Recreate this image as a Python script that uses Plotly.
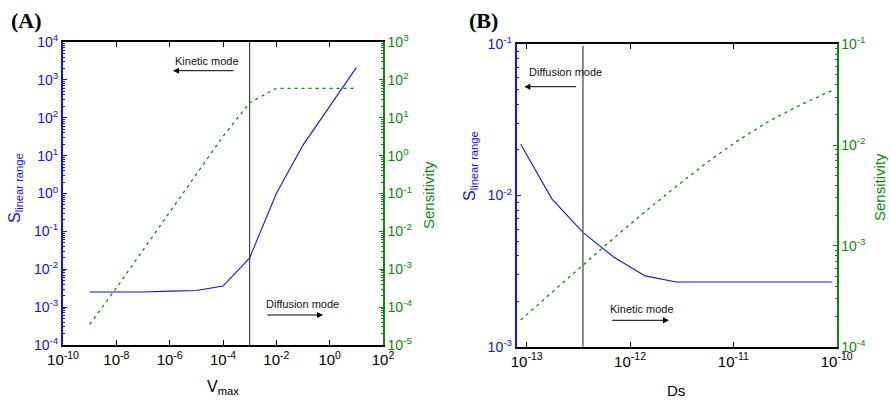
import math
import plotly.graph_objects as go

# ---------------- Data ----------------
# Panel A
vmax = [1e-9, 1e-8, 1e-7, 1e-6, 1e-5, 1e-4, 1e-3, 1e-2, 1e-1, 1e0, 1e1]
s_lin_A = [2.5e-3, 2.5e-3, 2.5e-3, 2.65e-3, 2.75e-3, 3.6e-3, 2.0e-2, 1.0, 19.0, 200.0, 2100.0]
sens_A = [3.5e-5, 3.2e-4, 3.2e-3, 3.2e-2, 0.32, 3.2, 25.0, 60.0, 60.0, 60.0, 60.0]
vline_A = 1e-3

# Panel B
ds = [8.75e-14, 1.75e-13, 3.5e-13, 7e-13, 1.4e-12, 2.8e-12, 5.6e-12,
      1.12e-11, 2.24e-11, 4.48e-11, 8.96e-11]
s_lin_B = [0.0218, 0.0095, 0.0057, 0.0039, 0.00294, 0.00268, 0.00268,
           0.00268, 0.00268, 0.00268, 0.00268]
sens_B = [1.84e-4, 3.47e-4, 6.46e-4, 1.2e-3, 2.19e-3, 3.89e-3, 6.76e-3,
          0.0112, 0.0174, 0.0251, 0.0347]
vline_B = 3.5e-13

# Tick definitions (exponents)
xA_exp = [-10, -8, -6, -4, -2, 0, 2]
yA_left_exp = [-4, -3, -2, -1, 0, 1, 2, 3, 4]
yA_right_exp = [-5, -4, -3, -2, -1, 0, 1, 2, 3]
xB_exp = [-13, -12, -11, -10]
yB_left_exp = [-3, -2, -1]
yB_right_exp = [-4, -3, -2, -1]

BLUE = "#1010ff"
GREEN = "#0a8a0a"
FONT = "Liberation Sans"
W, H = 890, 401


def tv(exps):
    return [10.0 ** e for e in exps]


def tt(exps):
    return ["10<sup>%d</sup>" % e for e in exps]


def minor_vals(exps):
    out = []
    for e in exps[:-1]:
        for m in range(2, 10):
            out.append(m * 10.0 ** e)
    return out


def px(x):
    return x / W


def py(y):
    return 1 - y / H


fig = go.Figure()

# Panel A traces
fig.add_trace(go.Scatter(x=vmax, y=s_lin_A, mode="lines", line=dict(color=BLUE, width=1.1),
                         xaxis="x", yaxis="y", showlegend=False))
fig.add_trace(go.Scatter(x=vmax, y=sens_A, mode="lines", line=dict(color=GREEN, width=1.3, dash="3px,4px"),
                         xaxis="x", yaxis="y2", showlegend=False))
fig.add_trace(go.Scatter(x=[vline_A, vline_A], y=[1e-4, 1e4], mode="lines",
                         line=dict(color="#222222", width=1), xaxis="x", yaxis="y", showlegend=False))

# Panel B traces
fig.add_trace(go.Scatter(x=ds, y=s_lin_B, mode="lines", line=dict(color=BLUE, width=1.1),
                         xaxis="x2", yaxis="y3", showlegend=False))
fig.add_trace(go.Scatter(x=ds, y=sens_B, mode="lines", line=dict(color=GREEN, width=1.3, dash="3px,4px"),
                         xaxis="x2", yaxis="y4", showlegend=False))
fig.add_trace(go.Scatter(x=[vline_B, vline_B], y=[1e-3, 0.098], mode="lines",
                         line=dict(color="#666666", width=1.5), xaxis="x2", yaxis="y3", showlegend=False))

domA_x = [px(63), px(383)]
domA_y = [py(345), py(42)]
domB_x = [px(516.7), px(836.7)]
domB_y = [py(346.7), py(44.3)]

xcommon = dict(type="log", ticks="inside", ticklen=5, tickwidth=1, tickcolor="black",
               showline=True, linecolor="black", linewidth=2, mirror="ticks",
               showgrid=False, zeroline=False, automargin=False,
               tickfont=dict(family=FONT, size=15, color="black"))


def ycommon(color, side, exps):
    return dict(type="log", ticks="inside", ticklen=4, tickwidth=1, tickcolor=color,
                showline=True, linecolor=color, linewidth=2 if side == "left" else 1.5,
                showgrid=False, zeroline=False, side=side, automargin=False,
                tickvals=tv(exps), ticktext=tt(exps),
                minor=dict(ticks="inside", ticklen=2, tickcolor=color, showgrid=False,
                           tickmode="array", tickvals=minor_vals(exps)),
                tickfont=dict(family=FONT, size=14, color=color))


fig.update_layout(
    width=W, height=H,
    margin=dict(l=0, r=0, t=0, b=0, autoexpand=False),
    paper_bgcolor="white", plot_bgcolor="white",
    xaxis=dict(domain=domA_x, anchor="y", range=[-10, 2],
               tickvals=tv(xA_exp), ticktext=tt(xA_exp), **xcommon),
    yaxis=dict(domain=domA_y, anchor="x", range=[-4, 4], **ycommon(BLUE, "left", yA_left_exp)),
    yaxis2=dict(overlaying="y", anchor="x", range=[-5, 3], **ycommon(GREEN, "right", yA_right_exp)),
    xaxis2=dict(domain=domB_x, anchor="y3", range=[math.log10(8e-14), -10],
                tickvals=tv(xB_exp), ticktext=tt(xB_exp), **xcommon),
    yaxis3=dict(domain=domB_y, anchor="x2", range=[-3, -1], **ycommon(BLUE, "left", yB_left_exp)),
    yaxis4=dict(overlaying="y3", anchor="x2", range=[-4, -1], **ycommon(GREEN, "right", yB_right_exp)),
)

ann = []


def text(x, y, s, size=11, color="#111111", family=FONT, angle=0, bold=False):
    ann.append(dict(x=px(x), y=py(y), xref="paper", yref="paper", text=("<b>%s</b>" % s) if bold else s,
                    showarrow=False, textangle=angle,
                    font=dict(family=family, size=size, color=color),
                    xanchor="center", yanchor="middle"))


def arrow(x_tail, x_head, y):
    ann.append(dict(x=px(x_head), y=py(y), xref="paper", yref="paper", text="",
                    showarrow=True, ax=x_tail - x_head, ay=0, axref="pixel", ayref="pixel",
                    arrowhead=2, arrowsize=1.2, arrowwidth=1, arrowcolor="black"))


# Panel labels
text(26, 20, "(A)", size=22, color="black", family="Liberation Serif", bold=True)
text(483, 20, "(B)", size=22, color="black", family="Liberation Serif", bold=True)

# Axis titles
text(15, 188, "S<sub>linear range</sub>", size=16, color=BLUE, angle=-90)
text(428, 195, "Sensitivity", size=15, color=GREEN, angle=-90)
text(223, 387, "V<sub>max</sub>", size=16, color="black")
text(470, 166, "S<sub>linear range</sub>", size=16, color=BLUE, angle=-90)
text(880, 187, "Sensitivity", size=15, color=GREEN, angle=-90)
text(676, 390, "Ds", size=15, color="black")

# Mode annotations
text(207, 61, "Kinetic mode")
arrow(235, 173, 70.7)
text(302, 304, "Diffusion mode")
arrow(265.7, 323, 315)
text(565, 72.3, "Diffusion mode")
arrow(577.7, 524.3, 86.7)
text(641.7, 309.3, "Kinetic mode")
arrow(610.7, 669, 320.3)

fig.update_layout(annotations=ann)

fig.write_html("out.html", config={"displayModeBar": False},
               post_script="document.body.style.margin='0px';")
